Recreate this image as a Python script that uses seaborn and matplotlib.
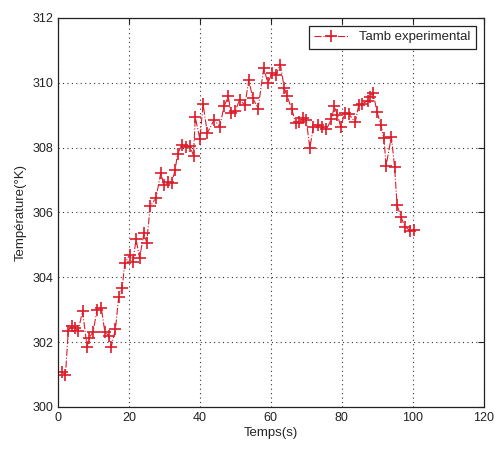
import numpy as np
import pandas as pd
import matplotlib
matplotlib.use('Agg')
import matplotlib.pyplot as plt
import seaborn as sns

# values
temps = [1.0, 2.1, 2.9, 3.8, 4.8, 5.7, 6.9, 8.2, 8.8, 9.9,
         11.0, 12.2, 13.2, 14.4, 15.0, 16.2, 17.1, 18.1, 18.8, 20.2,
         21.1, 22.0, 23.0, 24.2, 25.0, 26.0, 27.6, 29.0, 29.8, 30.9,
         32.0, 33.0, 33.7, 34.9, 36.0, 37.2, 38.2, 38.7, 40.0, 40.9,
         42.1, 44.0, 45.6, 46.8, 48.0, 48.8, 50.0, 51.2, 52.7, 53.8,
         54.9, 56.4, 58.0, 59.2, 60.3, 61.4, 62.7, 63.8, 64.6, 65.9,
         67.0, 68.0, 69.0, 70.0, 71.0, 72.0, 73.4, 74.3, 75.7, 77.1,
         77.9, 78.8, 79.7, 80.9, 82.0, 83.8, 84.8, 85.7, 87.4, 87.9,
         88.8, 90.0, 91.0, 91.9, 92.5, 94.0, 94.9, 95.6, 96.7, 97.8,
         99.3, 100.4]
tamb = [301.09, 301.00, 302.35, 302.50, 302.43, 302.35, 302.96, 301.86, 302.14, 302.32,
        303.00, 303.05, 302.32, 302.19, 301.86, 302.40, 303.40, 303.66, 304.43, 304.69,
        304.48, 305.17, 304.59, 305.36, 305.07, 306.20, 306.44, 307.23, 306.85, 306.95,
        306.90, 307.30, 307.80, 308.09, 308.01, 308.05, 307.75, 308.94, 308.26, 309.34,
        308.45, 308.86, 308.65, 309.27, 309.58, 309.07, 309.14, 309.48, 309.32, 310.09,
        309.53, 309.20, 310.45, 309.99, 310.30, 310.25, 310.56, 309.84, 309.58, 309.20,
        308.76, 308.80, 308.91, 308.86, 307.98, 308.65, 308.70, 308.65, 308.57, 308.88,
        309.27, 309.01, 308.65, 309.07, 309.04, 308.78, 309.32, 309.35, 309.45, 309.56,
        309.70, 309.09, 308.70, 308.29, 307.44, 308.34, 307.40, 306.23, 305.87, 305.56,
        305.44, 305.46]

xticks = [0, 20, 40, 60, 80, 100, 120]
yticks = [300, 302, 304, 306, 308, 310, 312]

data = pd.DataFrame({'temps': temps, 'tamb': tamb})

sns.set_style('white')
plt.rcParams['font.family'] = ['Liberation Sans Narrow', 'Liberation Sans', 'DejaVu Sans']

red = '#dd1c2a'
fig = plt.figure(figsize=(4.96, 4.5), dpi=100)
ax = fig.add_axes([0.117, 0.0956, 0.858, 0.8644])

sns.lineplot(x='temps', y='tamb', data=data, ax=ax, sort=False, estimator=None,
             color=red, linestyle='-.', linewidth=0.8, marker='+',
             markersize=9, markeredgewidth=1.2, markeredgecolor=red,
             label='Tamb experimental')

ax.set_xlim(0, 120)
ax.set_ylim(300, 312)
ax.set_xticks(xticks)
ax.set_yticks(yticks)
ax.grid(True, linestyle=(0, (1, 3)), color='#333333', linewidth=0.8)
ax.tick_params(direction='in', top=True, right=True, length=4, width=0.8,
               labelsize=9, colors='#222222')
for s in ax.spines.values():
    s.set_color('#222222')
    s.set_linewidth(0.9)

ax.set_xlabel('Temps(s)', fontsize=9.5, labelpad=2)
ax.set_ylabel('Température(°K)', fontsize=9.5, labelpad=4)

leg = ax.legend(loc='upper right', fontsize=9.5, fancybox=False, framealpha=1,
                edgecolor='#222222', borderaxespad=0.6, handlelength=2.6)
leg.get_frame().set_linewidth(0.9)

fig.savefig('out.png', dpi=100)
